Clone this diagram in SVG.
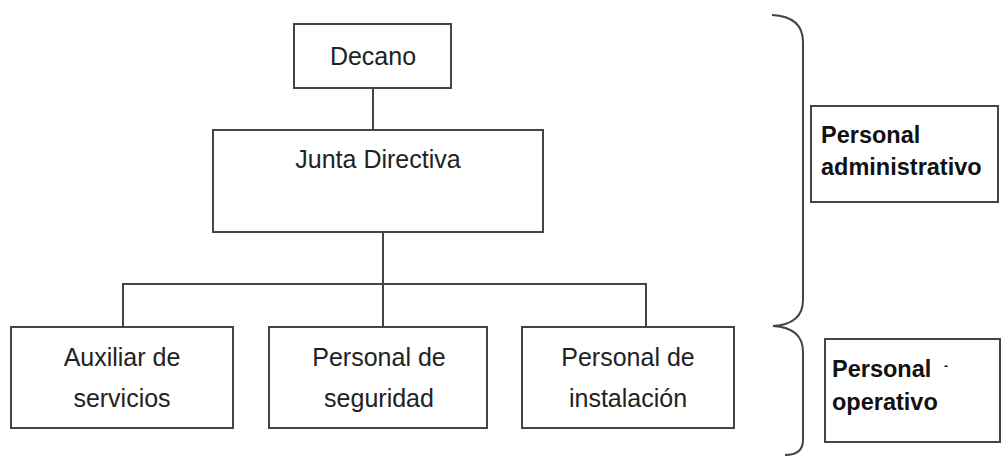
<svg xmlns="http://www.w3.org/2000/svg" width="1002" height="456" viewBox="0 0 1002 456">
<style>
.box{fill:#fff;stroke:#444;stroke-width:2}
.ln{fill:none;stroke:#444;stroke-width:2}
.t{font-family:"Liberation Sans",Arial,sans-serif;font-size:25px;fill:#222;text-anchor:middle}
.b{font-family:"Liberation Sans",Arial,sans-serif;font-size:23.5px;font-weight:bold;fill:#111}
</style>
<rect width="1002" height="456" fill="#fff"/>
<g id="connectors">
<line class="ln" x1="373" y1="88" x2="373" y2="130"/>
<line class="ln" x1="383" y1="232" x2="383" y2="327"/>
<polyline class="ln" points="123,327 123,284 646,284 646,327"/>
<path class="ln" d="M772,15 C792,16 803,24 803,42 L803,300 C803,318 790,325 773,326 C790,327 803,334 803,352 L803,440 C803,450 797,455 785,455"/>
</g>
<g id="decano">
<rect class="box" x="294" y="24" width="157" height="64"/>
<text class="t" x="373" y="65">Decano</text>
</g>
<g id="junta">
<rect class="box" x="213" y="130" width="330" height="102"/>
<text class="t" x="378" y="168">Junta Directiva</text>
</g>
<g id="auxiliar">
<rect class="box" x="11" y="327" width="222" height="101"/>
<text class="t" x="122" y="366">Auxiliar de</text>
<text class="t" x="122" y="407">servicios</text>
</g>
<g id="seguridad">
<rect class="box" x="269" y="327" width="218" height="101"/>
<text class="t" x="379" y="366">Personal de</text>
<text class="t" x="379" y="407">seguridad</text>
</g>
<g id="instalacion">
<rect class="box" x="522" y="327" width="212" height="101"/>
<text class="t" x="628" y="366">Personal de</text>
<text class="t" x="628" y="407">instalación</text>
</g>
<g id="administrativo">
<rect class="box" x="811" y="106" width="187" height="96"/>
<text class="b" x="821" y="143">Personal</text>
<text class="b" x="821" y="175">administrativo</text>
</g>
<g id="operativo">
<rect class="box" x="825" y="339" width="175" height="103"/>
<text class="b" x="832" y="377">Personal</text>
<text class="b" x="832" y="410">operativo</text>
<text class="b" x="944" y="370" style="font-size:12px">-</text>
</g>
</svg>
